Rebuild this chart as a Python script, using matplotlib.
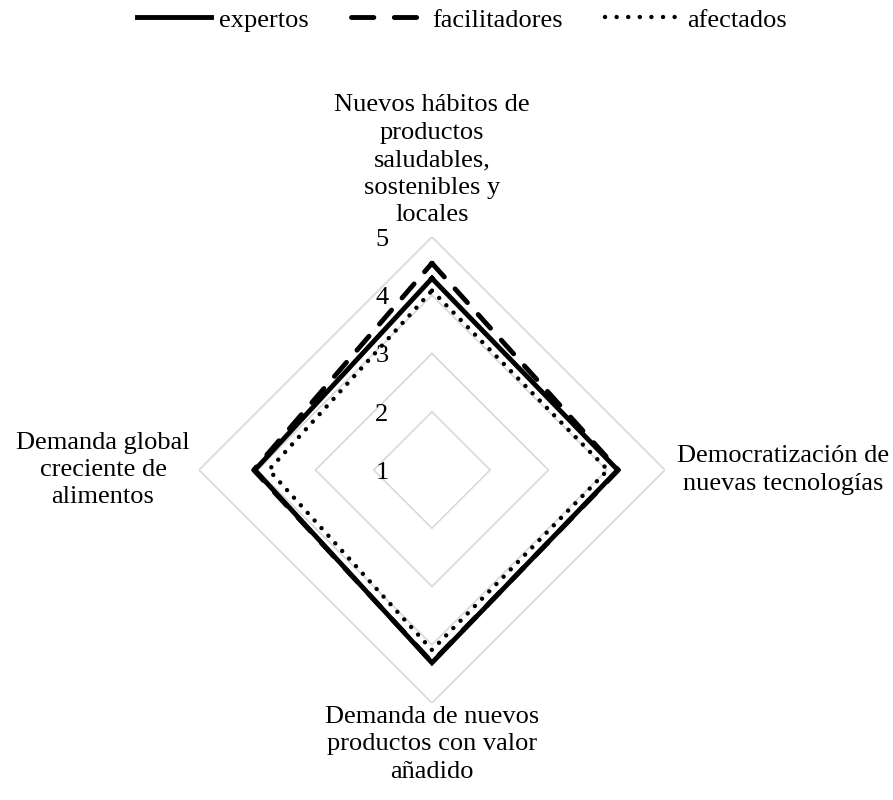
import numpy as np
import matplotlib
matplotlib.use("Agg")
import matplotlib.pyplot as plt
from matplotlib.lines import Line2D

categories = ["Nuevos hábitos de\nproductos\nsaludables,\nsostenibles y\nlocales",
              "Democratización de\nnuevas tecnologías",
              "Demanda de nuevos\nproductos con valor\nañadido",
              "Demanda global\ncreciente de\nalimentos"]
expertos = [4.29, 4.19, 4.31, 4.04]
facilitadores = [4.55, 4.20, 4.30, 4.06]
afectados = [4.08, 4.02, 4.09, 3.80]
ticks = [1, 2, 3, 4, 5]

plt.rcParams['font.family'] = ['Liberation Serif', 'DejaVu Serif']

fig = plt.figure(figsize=(8.93, 8.0), dpi=100)
ax = fig.add_axes([0.2228, 0.12125, 0.5218, 0.5825], projection='polar')
ax.set_theta_offset(np.pi / 2)
ax.set_theta_direction(-1)
ax.set_ylim(1, 5)
ax.grid(False)
ax.spines['polar'].set_visible(False)
ax.set_xticks([])
ax.set_yticks([])
ax.patch.set_alpha(0)

n = len(categories)
theta = np.linspace(0, 2 * np.pi, n, endpoint=False)
theta_c = np.concatenate([theta, theta[:1]])

for t in ticks[1:]:
    ax.plot(theta_c, [t] * (n + 1), color='#d9d9d9', lw=1.2, zorder=1)

def closed(v):
    return list(v) + [v[0]]

ax.plot(theta_c, closed(afectados), color='black', lw=3.2,
        linestyle=(0, (0.01, 2.3)), dash_capstyle='round', zorder=3)
ax.plot(theta_c, closed(facilitadores), color='black', lw=3.5,
        linestyle=(0, (3.8, 3.3)), dash_capstyle='round', zorder=4)
ax.plot(theta_c, closed(expertos), color='black', lw=3.5,
        solid_joinstyle='miter', zorder=5)

fs = 19
ls = 1.32
# tick labels along vertical axis
for t in ticks:
    ax.annotate(str(t), xy=(0, t), xycoords='data', xytext=(-36, -2),
                textcoords='offset points', fontsize=fs,
                ha='center', va='center', zorder=2)

def px(x, y):
    return x / 893, 1 - y / 800

fig.text(*px(432, 226), categories[0], ha='center', va='bottom', fontsize=fs,
         linespacing=ls)
fig.text(*px(783, 470), categories[1], ha='center', va='center', fontsize=fs,
         linespacing=ls)
fig.text(*px(432, 706), categories[2], ha='center', va='top', fontsize=fs,
         linespacing=ls)
fig.text(*px(103, 470), categories[3], ha='center', va='center', fontsize=fs,
         linespacing=ls)

handles = [
    Line2D([], [], color='black', lw=3.5),
    Line2D([], [], color='black', lw=3.5, linestyle=(0, (4.6, 4.2)), dash_capstyle='round'),
    Line2D([], [], color='black', lw=3.2, linestyle=(0, (0.01, 2.6)), dash_capstyle='round'),
]
fig.legend(handles, ['expertos', 'facilitadores', 'afectados'], loc='center',
           bbox_to_anchor=(462 / 893, 1 - 20 / 800), ncol=3, frameon=False,
           fontsize=fs, handlelength=2.8, handletextpad=0.3, columnspacing=1.6)

fig.savefig('out.png', dpi=100)
